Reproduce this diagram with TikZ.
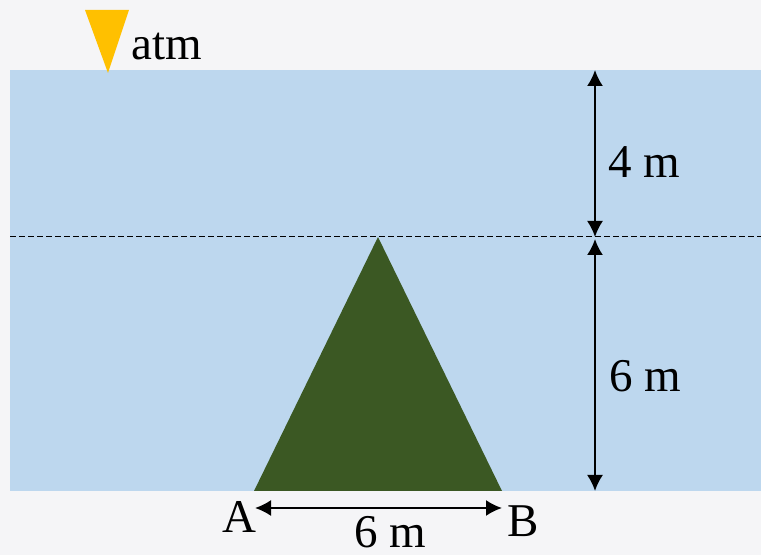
\documentclass[tikz,border=0pt]{standalone}
\usepackage{fontspec}
\setmainfont{Liberation Serif}
\usetikzlibrary{arrows.meta}
\definecolor{waterblue}{RGB}{189,215,238}
\definecolor{damgreen}{RGB}{59,88,35}
\definecolor{atmyellow}{RGB}{255,192,0}
\definecolor{paper}{RGB}{245,245,247}

\begin{document}
\begin{tikzpicture}[x=0.5pt,y=-0.5pt,every node/.style={font=\rmfamily\fontsize{23.5}{27}\selectfont,inner sep=0pt},
  dim/.style={line width=1pt,{Latex[length=8pt,width=8pt]}-{Latex[length=8pt,width=8pt]}}]
  \fill[paper] (0,0) rectangle (761,555);
  \useasboundingbox (0,0) rectangle (761,555);
  \fill[waterblue] (10,70) rectangle (761,491);
  \coordinate (top) at (595,70);
  \coordinate (mid) at (595,237);
  \coordinate (bot) at (595,491);
  \coordinate (A) at (255,508);
  \coordinate (B) at (502,508);
  \draw[dashed,line width=0.5pt,dash pattern=on 3pt off 1.5pt] (10,237) -- (761,237);
  \fill[damgreen] (378,237) -- (502,491) -- (254,491) -- cycle;
  \fill[atmyellow] (85,10) -- (129,10) -- (108,73) -- cycle;
  \node[anchor=base west] (atm) at (131,60) {atm};
  \draw[dim] (top) -- (mid);
  \draw[dim] ([yshift=-1pt]mid) -- (bot);
  \draw[dim] (A) -- (B);
  \node[anchor=base west] (h1) at (608,178) {4 m};
  \node[anchor=base west] (h2) at (609,392) {6 m};
  \node[anchor=base east] (la) at (257,533) {A};
  \node[anchor=base west] (lb) at (507,537) {B};
  \node[anchor=base] (w) at (390,548) {6 m};
\end{tikzpicture}
\end{document}
